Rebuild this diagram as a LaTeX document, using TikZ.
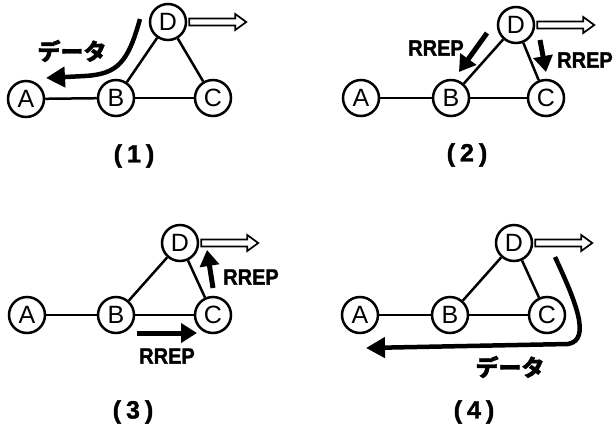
\documentclass[tikz,border=0pt]{standalone}
\usepackage{fontspec}
\usepackage{graphicx}
\setmainfont{Liberation Sans}
\newfontfamily\jpfont[BoldFeatures={FakeBold=1.5}]{Noto Sans CJK JP}
\newfontfamily\heavyfont[BoldFeatures={FakeBold=1.5}]{Liberation Sans}
\usetikzlibrary{arrows.meta,calc}
\newcommand\hollowarrow[1]{\draw[hollow] ($(#1.east)+(2,-3.5)$) -- ++(46,0) -- ++(0,-4.5) -- ++(11,8) -- ++(-11,8) -- ++(0,-4.5) -- ++(-46,0) -- cycle;}
\begin{document}
\begin{tikzpicture}[x=1pt,y=-1pt,
  nd/.style={circle,draw,line width=2.5pt,minimum size=36pt,inner sep=0pt,font=\fontsize{25}{25}\selectfont},
  edge/.style={line width=2.5pt},
  hollow/.style={draw,line width=1.7pt,fill=white,line join=miter},
  datarrow/.style={line width=4.5pt,-{Triangle[length=19pt,width=20pt]}},
  rrarrow/.style={line width=5pt,-{Triangle[length=16pt,width=19pt]}},
  rlab/.style={font=\heavyfont\bfseries\fontsize{21}{21}\selectfont,inner sep=0pt},
  jlab/.style={font=\jpfont\bfseries\fontsize{23}{23}\selectfont,inner sep=0pt},
  num/.style={font=\heavyfont\bfseries\fontsize{25}{25}\selectfont,inner sep=0pt}]
\useasboundingbox (0,0) rectangle (614,432);
% ---------- panel 1
\node[nd] (A1) at (26,99) {A};
\node[nd] (B1) at (116,98) {B};
\node[nd] (C1) at (213,98) {C};
\node[nd] (D1) at (168,22) {D};
\draw[edge] (A1) -- (B1);
\draw[edge] (B1) -- (C1);
\draw[edge] (B1) -- (D1);
\draw[edge] (D1) -- (C1);
\hollowarrow{D1}
\coordinate (s1) at (140,19);
\coordinate (e1) at (46,78);
\draw[datarrow] (s1) .. controls (128,62) and (118,74) .. (85,76) -- (e1);
\node[jlab] (t1) at (72,51) {データ};
\node[num] (n1) at (134,156) {(\hspace{5pt}1\hspace{5pt})};
% ---------- panel 2
\node[nd] (A2) at (361,98) {A};
\node[nd] (B2) at (451,98) {B};
\node[nd] (C2) at (546,98) {C};
\node[nd] (D2) at (516,25) {D};
\draw[edge] (A2) -- (B2);
\draw[edge] (B2) -- (C2);
\draw[edge] (B2) -- (D2);
\draw[edge] (D2) -- (C2);
\hollowarrow{D2}
\coordinate (p2a) at (487,33);
\coordinate (q2a) at (459,72);
\draw[rrarrow] (p2a) -- (q2a);
\node[rlab] (r2a) at (436,48) {\scalebox{0.95}[1.05]{RREP}};
\coordinate (p2b) at (540,40);
\coordinate (q2b) at (546,72);
\draw[rrarrow] (p2b) -- (q2b);
\node[rlab] (r2b) at (585,60) {\scalebox{0.95}[1.05]{RREP}};
\node[num] (n2) at (467,155) {(\hspace{5pt}2\hspace{5pt})};
% ---------- panel 3
\node[nd] (A3) at (27,315) {A};
\node[nd] (B3) at (116,315) {B};
\node[nd] (C3) at (213,315) {C};
\node[nd] (D3) at (180,243) {D};
\draw[edge] (A3) -- (B3);
\draw[edge] (B3) -- (C3);
\draw[edge] (B3) -- (D3);
\draw[edge] (D3) -- (C3);
\hollowarrow{D3}
\coordinate (p3a) at (213,288);
\coordinate (q3a) at (207,250);
\draw[rrarrow] (p3a) -- (q3a);
\node[rlab] (r3a) at (251,277) {\scalebox{0.95}[1.05]{RREP}};
\coordinate (p3b) at (137,333);
\coordinate (q3b) at (197,333);
\draw[rrarrow] (p3b) -- (q3b);
\node[rlab] (r3b) at (167,356) {\scalebox{0.95}[1.05]{RREP}};
\node[num] (n3) at (133,412) {(\hspace{5pt}3\hspace{5pt})};
% ---------- panel 4
\node[nd] (A4) at (360,315) {A};
\node[nd] (B4) at (450,315) {B};
\node[nd] (C4) at (547,315) {C};
\node[nd] (D4) at (514,243) {D};
\draw[edge] (A4) -- (B4);
\draw[edge] (B4) -- (C4);
\draw[edge] (B4) -- (D4);
\draw[edge] (D4) -- (C4);
\hollowarrow{D4}
\coordinate (s4) at (555,257);
\coordinate (e4) at (366,348);
\draw[datarrow] (s4) .. controls (575,300) and (592,340) .. (568,344) -- (e4);
\node[jlab] (t4) at (510,367) {データ};
\node[num] (n4) at (474,412) {(\hspace{5pt}4\hspace{5pt})};
\end{tikzpicture}
\end{document}
